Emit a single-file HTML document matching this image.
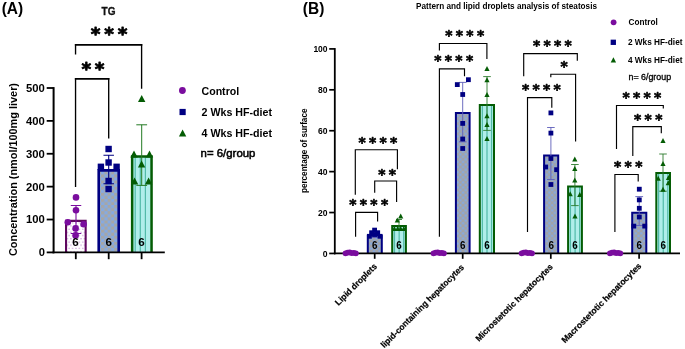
<!DOCTYPE html>
<html><head><meta charset="utf-8"><title>Figure</title>
<style>
html,body{margin:0;padding:0;background:#fff}
svg{display:block}
text{font-family:"Liberation Sans",sans-serif}
text.st{font-family:"DejaVu Sans",sans-serif;font-weight:bold}
</style></head><body>
<svg width="685" height="349" viewBox="0 0 685 349">
<defs>
<pattern id="pd" width="3.4" height="6.4" patternUnits="userSpaceOnUse" patternTransform="translate(66.6 0.4)"><rect width="3.4" height="6.4" fill="#fff"/><rect x="0.35" y="1.1" width="1" height="1" fill="#ae68c4"/><rect x="2.05" y="4.3" width="1" height="1" fill="#ae68c4"/></pattern>
<pattern id="pb" width="6.58" height="6.14" patternUnits="userSpaceOnUse" patternTransform="translate(101 192.8)"><rect width="6.58" height="6.14" fill="#86aae0"/><rect width="3.29" height="3.07" fill="#a6a6a6"/><rect x="3.29" y="3.07" width="3.29" height="3.07" fill="#a6a6a6"/></pattern>
<pattern id="pb2" width="5.4" height="5.1" patternUnits="userSpaceOnUse"><rect width="5.4" height="5.1" fill="#a1a3a9"/><rect x="0.3" y="0.3" width="2.1" height="2" fill="#82aae6"/><rect x="3" y="2.85" width="2.1" height="2" fill="#82aae6"/></pattern>
</defs>
<rect width="685" height="349" fill="#fff"/>

<text x="1.70" y="14.20" font-size="16.8" font-weight="bold" text-anchor="start" fill="#000" textLength="21.5" lengthAdjust="spacingAndGlyphs">(A)</text>
<text x="108.5" y="14.5" font-size="10" font-weight="bold" text-anchor="middle" fill="#111" stroke="#111" stroke-width="0.3">TG</text>
<rect x="66.05" y="220.85" width="19.60" height="31.55" fill="url(#pd)"/>
<path d="M66.05 252.40V220.85H85.65V252.40" fill="none" stroke="#600860" stroke-width="2.1"/>
<rect x="98.70" y="170.40" width="20.00" height="82.00" fill="url(#pb)"/>
<path d="M98.70 252.40V170.40H118.70V252.40" fill="none" stroke="#000082" stroke-width="2.6"/>
<rect x="132.15" y="156.45" width="19.40" height="95.95" fill="#b0eeea"/>
<path d="M135.20 156.45V252.40M140.30 156.45V252.40M145.40 156.45V252.40" stroke="#52baa8" stroke-width="1.2" fill="none"/>
<path d="M132.15 252.40V156.45H151.55V252.40" fill="none" stroke="#045c04" stroke-width="2.5"/>
<path d="M70.75 205.50H81.25M70.75 233.50H81.25M76.00 205.50V233.50" fill="none" stroke="#7a0d9e" stroke-width="1.1"/>
<path d="M103.45 155.30H113.95M103.45 183.80H113.95M108.70 155.30V183.80" fill="none" stroke="#000082" stroke-width="1.1"/>
<path d="M136.30 124.80H147.10M136.30 185.40H147.10M141.70 124.80V185.40" fill="none" stroke="#237a23" stroke-width="1.0"/>
<circle cx="76.00" cy="197.40" r="3.3" fill="#7a0d9e"/>
<circle cx="76.00" cy="210.20" r="3.3" fill="#7a0d9e"/>
<circle cx="67.80" cy="222.20" r="3.3" fill="#7a0d9e"/>
<circle cx="83.60" cy="224.20" r="3.3" fill="#7a0d9e"/>
<circle cx="75.60" cy="228.40" r="3.3" fill="#7a0d9e"/>
<circle cx="75.60" cy="235.40" r="3.3" fill="#7a0d9e"/>
<rect x="105.40" y="145.80" width="6.4" height="6.4" fill="#000082"/>
<rect x="105.40" y="159.30" width="6.4" height="6.4" fill="#000082"/>
<rect x="97.70" y="163.60" width="6.4" height="6.4" fill="#000082"/>
<rect x="113.40" y="163.60" width="6.4" height="6.4" fill="#000082"/>
<rect x="105.40" y="177.80" width="6.4" height="6.4" fill="#000082"/>
<rect x="105.40" y="185.80" width="6.4" height="6.4" fill="#000082"/>
<path d="M141.70 95.10L145.40 102.10H138.00Z" fill="#045c04"/>
<path d="M134.00 150.50L137.70 157.50H130.30Z" fill="#045c04"/>
<path d="M149.50 150.50L153.20 157.50H145.80Z" fill="#045c04"/>
<path d="M141.60 160.50L145.30 167.50H137.90Z" fill="#045c04"/>
<path d="M134.60 177.50L138.30 184.50H130.90Z" fill="#045c04"/>
<path d="M148.60 177.50L152.30 184.50H144.90Z" fill="#045c04"/>
<text x="75.60" y="245.80" font-size="11.6" font-weight="bold" text-anchor="middle" fill="#000">6</text>
<text x="108.70" y="245.80" font-size="11.6" font-weight="bold" text-anchor="middle" fill="#000">6</text>
<text x="141.60" y="245.80" font-size="11.6" font-weight="bold" text-anchor="middle" fill="#000">6</text>
<line x1="53.60" y1="87.10" x2="53.60" y2="253.30" stroke="#000" stroke-width="2.0" stroke-linecap="butt"/>
<line x1="52.60" y1="252.40" x2="164.80" y2="252.40" stroke="#000" stroke-width="1.8" stroke-linecap="butt"/>
<line x1="46.70" y1="88.00" x2="53.60" y2="88.00" stroke="#000" stroke-width="1.8" stroke-linecap="butt"/>
<text x="44.90" y="91.90" font-size="11.0" font-weight="bold" text-anchor="end" fill="#000" textLength="18.8" lengthAdjust="spacingAndGlyphs">500</text>
<line x1="46.70" y1="120.88" x2="53.60" y2="120.88" stroke="#000" stroke-width="1.8" stroke-linecap="butt"/>
<text x="44.90" y="124.78" font-size="11.0" font-weight="bold" text-anchor="end" fill="#000" textLength="18.8" lengthAdjust="spacingAndGlyphs">400</text>
<line x1="46.70" y1="153.76" x2="53.60" y2="153.76" stroke="#000" stroke-width="1.8" stroke-linecap="butt"/>
<text x="44.90" y="157.66" font-size="11.0" font-weight="bold" text-anchor="end" fill="#000" textLength="18.8" lengthAdjust="spacingAndGlyphs">300</text>
<line x1="46.70" y1="186.64" x2="53.60" y2="186.64" stroke="#000" stroke-width="1.8" stroke-linecap="butt"/>
<text x="44.90" y="190.54" font-size="11.0" font-weight="bold" text-anchor="end" fill="#000" textLength="18.8" lengthAdjust="spacingAndGlyphs">200</text>
<line x1="46.70" y1="219.52" x2="53.60" y2="219.52" stroke="#000" stroke-width="1.8" stroke-linecap="butt"/>
<text x="44.90" y="223.42" font-size="11.0" font-weight="bold" text-anchor="end" fill="#000" textLength="18.8" lengthAdjust="spacingAndGlyphs">100</text>
<line x1="46.70" y1="252.40" x2="53.60" y2="252.40" stroke="#000" stroke-width="1.8" stroke-linecap="butt"/>
<text x="44.90" y="256.30" font-size="11.0" font-weight="bold" text-anchor="end" fill="#000" textLength="6.2" lengthAdjust="spacingAndGlyphs">0</text>
<line x1="75.80" y1="252.40" x2="75.80" y2="259.20" stroke="#000" stroke-width="1.8" stroke-linecap="butt"/>
<line x1="108.70" y1="252.40" x2="108.70" y2="259.20" stroke="#000" stroke-width="1.8" stroke-linecap="butt"/>
<line x1="141.60" y1="252.40" x2="141.60" y2="259.20" stroke="#000" stroke-width="1.8" stroke-linecap="butt"/>
<text x="17.00" y="169.50" font-size="10.7" font-weight="bold" text-anchor="middle" fill="#000" textLength="173.0" lengthAdjust="spacingAndGlyphs" transform="rotate(-90 17.00 169.50)">Concentration (nmol/100mg liver)</text>
<path d="M75.55 54.40V44.10M141.60 88.70V44.10" fill="none" stroke="#000" stroke-width="1.35"/>
<path d="M74.88 44.95H142.28" fill="none" stroke="#000" stroke-width="1.7"/>
<path d="M75.55 187.00V78.10M108.70 138.40V78.10" fill="none" stroke="#000" stroke-width="1.35"/>
<path d="M74.88 78.95H109.38" fill="none" stroke="#000" stroke-width="1.7"/>
<text x="90.78" y="40.16" class="st" font-size="18.5" style="letter-spacing:3.82px" stroke="#000" stroke-width="0.83" stroke-linejoin="round">***</text>
<text x="81.48" y="74.77" class="st" font-size="18.5" style="letter-spacing:3.62px" stroke="#000" stroke-width="0.83" stroke-linejoin="round">**</text>
<circle cx="182.40" cy="90.50" r="3.4" fill="#7a0d9e"/>
<text x="201.50" y="94.50" font-size="10.7" font-weight="bold" text-anchor="start" fill="#000" textLength="37.7" lengthAdjust="spacingAndGlyphs">Control</text>
<rect x="179.50" y="108.90" width="6.2" height="6.2" fill="#000082"/>
<text x="201.50" y="116.30" font-size="10.7" font-weight="bold" text-anchor="start" fill="#000" textLength="70.5" lengthAdjust="spacingAndGlyphs">2 Wks HF-diet</text>
<path d="M182.60 129.50L186.30 136.50H178.90Z" fill="#045c04"/>
<text x="201.50" y="137.30" font-size="10.7" font-weight="bold" text-anchor="start" fill="#000" textLength="70.5" lengthAdjust="spacingAndGlyphs">4 Wks HF-diet</text>
<text x="200.6" y="157.0" font-size="10.9" font-weight="normal" stroke="#000" stroke-width="0.5" textLength="54.8" lengthAdjust="spacingAndGlyphs">n= 6/group</text>
<text x="302.80" y="14.20" font-size="16.8" font-weight="bold" text-anchor="start" fill="#000" textLength="21.5" lengthAdjust="spacingAndGlyphs">(B)</text>
<text x="416.00" y="8.70" font-size="8.5" font-weight="bold" text-anchor="start" fill="#000" textLength="181.0" lengthAdjust="spacingAndGlyphs">Pattern and lipid droplets analysis of steatosis</text>
<rect x="367.80" y="235.50" width="14.00" height="17.95" fill="url(#pb2)"/>
<path d="M367.80 253.45V235.50H381.80V253.45" fill="none" stroke="#000082" stroke-width="2.0"/>
<rect x="455.90" y="113.10" width="13.70" height="140.35" fill="url(#pb2)"/>
<path d="M455.90 253.45V113.10H469.60V253.45" fill="none" stroke="#000082" stroke-width="2.0"/>
<rect x="544.10" y="155.40" width="14.10" height="98.05" fill="url(#pb2)"/>
<path d="M544.10 253.45V155.40H558.20V253.45" fill="none" stroke="#000082" stroke-width="2.0"/>
<rect x="632.20" y="212.70" width="14.10" height="40.75" fill="url(#pb2)"/>
<path d="M632.20 253.45V212.70H646.30V253.45" fill="none" stroke="#000082" stroke-width="2.0"/>
<rect x="392.20" y="226.00" width="13.70" height="27.45" fill="#b0eeea"/>
<path d="M394.50 226.00V253.45M399.15 226.00V253.45M403.70 226.00V253.45" stroke="#52baa8" stroke-width="1.2" fill="none"/>
<path d="M392.20 253.45V226.00H405.90V253.45" fill="none" stroke="#045c04" stroke-width="2.0"/>
<rect x="479.80" y="105.00" width="14.20" height="148.45" fill="#b0eeea"/>
<path d="M482.35 105.00V253.45M487.00 105.00V253.45M491.55 105.00V253.45" stroke="#52baa8" stroke-width="1.2" fill="none"/>
<path d="M479.80 253.45V105.00H494.00V253.45" fill="none" stroke="#045c04" stroke-width="2.0"/>
<rect x="568.10" y="186.50" width="13.80" height="66.95" fill="#b0eeea"/>
<path d="M570.45 186.50V253.45M575.10 186.50V253.45M579.65 186.50V253.45" stroke="#52baa8" stroke-width="1.2" fill="none"/>
<path d="M568.10 253.45V186.50H581.90V253.45" fill="none" stroke="#045c04" stroke-width="2.0"/>
<rect x="656.30" y="173.10" width="13.70" height="80.35" fill="#b0eeea"/>
<path d="M658.60 173.10V253.45M663.25 173.10V253.45M667.80 173.10V253.45" stroke="#52baa8" stroke-width="1.2" fill="none"/>
<path d="M656.30 253.45V173.10H670.00V253.45" fill="none" stroke="#045c04" stroke-width="2.0"/>
<path d="M458.90 82.40H466.50M458.90 141.80H466.50M462.70 82.40V141.80" fill="none" stroke="#5e5eba" stroke-width="0.9"/>
<path d="M483.20 76.60H490.80M483.20 130.40H490.80M487.00 76.60V130.40" fill="none" stroke="#2c7c2c" stroke-width="0.9"/>
<path d="M547.10 127.50H554.70M547.10 179.50H554.70M550.90 127.50V179.50" fill="none" stroke="#5e5eba" stroke-width="0.9"/>
<path d="M571.10 164.50H578.70M571.10 205.60H578.70M574.90 164.50V205.60" fill="none" stroke="#2c7c2c" stroke-width="0.9"/>
<path d="M635.30 196.60H643.10M635.30 225.50H643.10M639.20 196.60V225.50" fill="none" stroke="#5e5eba" stroke-width="0.9"/>
<path d="M659.20 154.00H666.80M659.20 191.20H666.80M663.00 154.00V191.20" fill="none" stroke="#2c7c2c" stroke-width="0.9"/>
<path d="M371.70 231.50H377.70M371.70 237.50H377.70M374.70 231.50V237.50" fill="none" stroke="#5e5eba" stroke-width="0.9"/>
<path d="M396.00 219.50H402.00M396.00 230.50H402.00M399.00 219.50V230.50" fill="none" stroke="#2c7c2c" stroke-width="0.9"/>
<rect x="372.20" y="227.70" width="4.8" height="4.8" fill="#000082"/>
<rect x="369.20" y="230.30" width="4.8" height="4.8" fill="#000082"/>
<rect x="375.30" y="230.30" width="4.8" height="4.8" fill="#000082"/>
<rect x="367.00" y="233.90" width="4.8" height="4.8" fill="#000082"/>
<rect x="377.60" y="233.90" width="4.8" height="4.8" fill="#000082"/>
<rect x="372.20" y="232.10" width="4.8" height="4.8" fill="#000082"/>
<rect x="454.90" y="82.20" width="4.8" height="4.8" fill="#000082"/>
<rect x="466.00" y="77.30" width="4.8" height="4.8" fill="#000082"/>
<rect x="460.30" y="92.10" width="4.8" height="4.8" fill="#000082"/>
<rect x="460.30" y="121.00" width="4.8" height="4.8" fill="#000082"/>
<rect x="460.30" y="136.60" width="4.8" height="4.8" fill="#000082"/>
<rect x="460.30" y="146.10" width="4.8" height="4.8" fill="#000082"/>
<rect x="548.50" y="110.50" width="4.8" height="4.8" fill="#000082"/>
<rect x="548.50" y="130.70" width="4.8" height="4.8" fill="#000082"/>
<rect x="548.50" y="156.10" width="4.8" height="4.8" fill="#000082"/>
<rect x="543.30" y="164.60" width="4.8" height="4.8" fill="#000082"/>
<rect x="554.20" y="167.30" width="4.8" height="4.8" fill="#000082"/>
<rect x="548.50" y="182.10" width="4.8" height="4.8" fill="#000082"/>
<rect x="636.90" y="186.80" width="4.8" height="4.8" fill="#000082"/>
<rect x="636.90" y="197.50" width="4.8" height="4.8" fill="#000082"/>
<rect x="636.90" y="205.90" width="4.8" height="4.8" fill="#000082"/>
<rect x="636.90" y="214.60" width="4.8" height="4.8" fill="#000082"/>
<rect x="631.40" y="223.70" width="4.8" height="4.8" fill="#000082"/>
<rect x="642.30" y="223.70" width="4.8" height="4.8" fill="#000082"/>
<path d="M397.30 217.50L399.90 222.50H394.70Z" fill="#045c04"/>
<path d="M400.70 213.50L403.30 218.50H398.10Z" fill="#045c04"/>
<path d="M394.40 225.90L397.00 230.90H391.80Z" fill="#045c04"/>
<path d="M397.60 225.90L400.20 230.90H395.00Z" fill="#045c04"/>
<path d="M400.70 225.90L403.30 230.90H398.10Z" fill="#045c04"/>
<path d="M403.80 225.90L406.40 230.90H401.20Z" fill="#045c04"/>
<path d="M487.00 66.00L489.60 71.00H484.40Z" fill="#045c04"/>
<path d="M487.00 77.30L489.60 82.30H484.40Z" fill="#045c04"/>
<path d="M487.00 92.00L489.60 97.00H484.40Z" fill="#045c04"/>
<path d="M487.00 113.30L489.60 118.30H484.40Z" fill="#045c04"/>
<path d="M487.00 122.10L489.60 127.10H484.40Z" fill="#045c04"/>
<path d="M487.00 135.90L489.60 140.90H484.40Z" fill="#045c04"/>
<path d="M574.80 156.50L577.40 161.50H572.20Z" fill="#045c04"/>
<path d="M574.80 166.00L577.40 171.00H572.20Z" fill="#045c04"/>
<path d="M574.80 177.50L577.40 182.50H572.20Z" fill="#045c04"/>
<path d="M570.20 191.30L572.80 196.30H567.60Z" fill="#045c04"/>
<path d="M579.80 192.10L582.40 197.10H577.20Z" fill="#045c04"/>
<path d="M575.00 213.50L577.60 218.50H572.40Z" fill="#045c04"/>
<path d="M663.00 138.10L665.60 143.10H660.40Z" fill="#045c04"/>
<path d="M663.00 160.90L665.60 165.90H660.40Z" fill="#045c04"/>
<path d="M658.20 175.70L660.80 180.70H655.60Z" fill="#045c04"/>
<path d="M668.50 175.10L671.10 180.10H665.90Z" fill="#045c04"/>
<path d="M668.30 180.30L670.90 185.30H665.70Z" fill="#045c04"/>
<path d="M663.00 186.70L665.60 191.70H660.40Z" fill="#045c04"/>
<text x="372.10" y="248.50" font-size="10.3" font-weight="bold" text-anchor="start" fill="#000" textLength="5.5" lengthAdjust="spacingAndGlyphs">6</text>
<text x="460.05" y="248.50" font-size="10.3" font-weight="bold" text-anchor="start" fill="#000" textLength="5.5" lengthAdjust="spacingAndGlyphs">6</text>
<text x="548.45" y="248.50" font-size="10.3" font-weight="bold" text-anchor="start" fill="#000" textLength="5.5" lengthAdjust="spacingAndGlyphs">6</text>
<text x="636.55" y="248.50" font-size="10.3" font-weight="bold" text-anchor="start" fill="#000" textLength="5.5" lengthAdjust="spacingAndGlyphs">6</text>
<text x="396.35" y="248.50" font-size="10.3" font-weight="bold" text-anchor="start" fill="#000" textLength="5.5" lengthAdjust="spacingAndGlyphs">6</text>
<text x="484.20" y="248.50" font-size="10.3" font-weight="bold" text-anchor="start" fill="#000" textLength="5.5" lengthAdjust="spacingAndGlyphs">6</text>
<text x="572.30" y="248.50" font-size="10.3" font-weight="bold" text-anchor="start" fill="#000" textLength="5.5" lengthAdjust="spacingAndGlyphs">6</text>
<text x="660.45" y="248.50" font-size="10.3" font-weight="bold" text-anchor="start" fill="#000" textLength="5.5" lengthAdjust="spacingAndGlyphs">6</text>
<line x1="334.80" y1="48.05" x2="334.80" y2="254.30" stroke="#000" stroke-width="1.8" stroke-linecap="butt"/>
<line x1="333.90" y1="253.45" x2="680.00" y2="253.45" stroke="#000" stroke-width="1.7" stroke-linecap="butt"/>
<line x1="329.20" y1="48.90" x2="334.80" y2="48.90" stroke="#000" stroke-width="1.7" stroke-linecap="butt"/>
<text x="327.60" y="52.10" font-size="9.0" font-weight="bold" text-anchor="end" fill="#000" textLength="14.2" lengthAdjust="spacingAndGlyphs">100</text>
<line x1="329.20" y1="89.81" x2="334.80" y2="89.81" stroke="#000" stroke-width="1.7" stroke-linecap="butt"/>
<text x="327.60" y="93.01" font-size="9.0" font-weight="bold" text-anchor="end" fill="#000" textLength="9.5" lengthAdjust="spacingAndGlyphs">80</text>
<line x1="329.20" y1="130.72" x2="334.80" y2="130.72" stroke="#000" stroke-width="1.7" stroke-linecap="butt"/>
<text x="327.60" y="133.92" font-size="9.0" font-weight="bold" text-anchor="end" fill="#000" textLength="9.5" lengthAdjust="spacingAndGlyphs">60</text>
<line x1="329.20" y1="171.63" x2="334.80" y2="171.63" stroke="#000" stroke-width="1.7" stroke-linecap="butt"/>
<text x="327.60" y="174.83" font-size="9.0" font-weight="bold" text-anchor="end" fill="#000" textLength="9.5" lengthAdjust="spacingAndGlyphs">40</text>
<line x1="329.20" y1="212.54" x2="334.80" y2="212.54" stroke="#000" stroke-width="1.7" stroke-linecap="butt"/>
<text x="327.60" y="215.74" font-size="9.0" font-weight="bold" text-anchor="end" fill="#000" textLength="9.5" lengthAdjust="spacingAndGlyphs">20</text>
<line x1="329.20" y1="253.45" x2="334.80" y2="253.45" stroke="#000" stroke-width="1.7" stroke-linecap="butt"/>
<text x="327.60" y="256.65" font-size="9.0" font-weight="bold" text-anchor="end" fill="#000" textLength="4.8" lengthAdjust="spacingAndGlyphs">0</text>
<line x1="374.70" y1="253.45" x2="374.70" y2="258.80" stroke="#000" stroke-width="1.7" stroke-linecap="butt"/>
<line x1="462.70" y1="253.45" x2="462.70" y2="258.80" stroke="#000" stroke-width="1.7" stroke-linecap="butt"/>
<line x1="550.80" y1="253.45" x2="550.80" y2="258.80" stroke="#000" stroke-width="1.7" stroke-linecap="butt"/>
<line x1="639.10" y1="253.45" x2="639.10" y2="258.80" stroke="#000" stroke-width="1.7" stroke-linecap="butt"/>
<circle cx="345.50" cy="253.35" r="2.9" fill="#7a0d9e"/>
<circle cx="347.60" cy="252.65" r="2.9" fill="#7a0d9e"/>
<circle cx="349.70" cy="252.45" r="2.9" fill="#7a0d9e"/>
<circle cx="351.70" cy="253.15" r="2.9" fill="#7a0d9e"/>
<circle cx="353.80" cy="252.85" r="2.9" fill="#7a0d9e"/>
<circle cx="355.90" cy="253.35" r="2.9" fill="#7a0d9e"/>
<circle cx="433.50" cy="253.35" r="2.9" fill="#7a0d9e"/>
<circle cx="435.60" cy="252.65" r="2.9" fill="#7a0d9e"/>
<circle cx="437.70" cy="252.45" r="2.9" fill="#7a0d9e"/>
<circle cx="439.70" cy="253.15" r="2.9" fill="#7a0d9e"/>
<circle cx="441.80" cy="252.85" r="2.9" fill="#7a0d9e"/>
<circle cx="443.90" cy="253.35" r="2.9" fill="#7a0d9e"/>
<circle cx="521.60" cy="253.35" r="2.9" fill="#7a0d9e"/>
<circle cx="523.70" cy="252.65" r="2.9" fill="#7a0d9e"/>
<circle cx="525.80" cy="252.45" r="2.9" fill="#7a0d9e"/>
<circle cx="527.80" cy="253.15" r="2.9" fill="#7a0d9e"/>
<circle cx="529.90" cy="252.85" r="2.9" fill="#7a0d9e"/>
<circle cx="532.00" cy="253.35" r="2.9" fill="#7a0d9e"/>
<circle cx="609.90" cy="253.35" r="2.9" fill="#7a0d9e"/>
<circle cx="612.00" cy="252.65" r="2.9" fill="#7a0d9e"/>
<circle cx="614.10" cy="252.45" r="2.9" fill="#7a0d9e"/>
<circle cx="616.10" cy="253.15" r="2.9" fill="#7a0d9e"/>
<circle cx="618.20" cy="252.85" r="2.9" fill="#7a0d9e"/>
<circle cx="620.30" cy="253.35" r="2.9" fill="#7a0d9e"/>
<text x="306.60" y="150.80" font-size="8.3" font-weight="bold" text-anchor="middle" fill="#000" textLength="84.5" lengthAdjust="spacingAndGlyphs" transform="rotate(-90 306.60 150.80)">percentage of surface</text>
<text x="377.50" y="267.00" font-size="8.6" font-weight="bold" text-anchor="end" stroke="#000" stroke-width="0.2" textLength="55" lengthAdjust="spacingAndGlyphs" transform="rotate(-45 377.50 267.00)">Lipid droplets</text>
<text x="464.60" y="268.00" font-size="8.6" font-weight="bold" text-anchor="end" stroke="#000" stroke-width="0.2" textLength="113.6" lengthAdjust="spacingAndGlyphs" transform="rotate(-45 464.60 268.00)">lipid-containing hepatocytes</text>
<text x="553.50" y="267.40" font-size="8.6" font-weight="bold" text-anchor="end" stroke="#000" stroke-width="0.2" textLength="105.5" lengthAdjust="spacingAndGlyphs" transform="rotate(-45 553.50 267.40)">Microstetotic hepatocytes</text>
<text x="642.00" y="266.50" font-size="8.6" font-weight="bold" text-anchor="end" stroke="#000" stroke-width="0.2" textLength="109" lengthAdjust="spacingAndGlyphs" transform="rotate(-45 642.00 266.50)">Macrostetotic hepatocytes</text>
<path d="M355.30 194.70V149.70H397.40V169.20" fill="none" stroke="#000" stroke-width="1.15" stroke-linejoin="miter"/>
<path d="M374.70 192.70V181.00H396.60V201.90" fill="none" stroke="#000" stroke-width="1.15" stroke-linejoin="miter"/>
<path d="M355.60 236.70V212.40H377.60V221.60" fill="none" stroke="#000" stroke-width="1.15" stroke-linejoin="miter"/>
<text x="358.48" y="146.96" class="st" font-size="13.8" style="letter-spacing:3.33px" stroke="#000" stroke-width="0.62" stroke-linejoin="round">****</text>
<text x="378.28" y="178.86" class="st" font-size="13.8" style="letter-spacing:3.33px" stroke="#000" stroke-width="0.62" stroke-linejoin="round">**</text>
<text x="349.28" y="209.46" class="st" font-size="13.8" style="letter-spacing:3.33px" stroke="#000" stroke-width="0.62" stroke-linejoin="round">****</text>
<path d="M439.40 50.50V43.50H486.90V59.00" fill="none" stroke="#000" stroke-width="1.15" stroke-linejoin="miter"/>
<path d="M439.40 236.70V68.80H464.50V76.20" fill="none" stroke="#000" stroke-width="1.15" stroke-linejoin="miter"/>
<text x="445.28" y="40.16" class="st" font-size="13.8" style="letter-spacing:3.33px" stroke="#000" stroke-width="0.62" stroke-linejoin="round">****</text>
<text x="434.28" y="65.46" class="st" font-size="13.8" style="letter-spacing:3.33px" stroke="#000" stroke-width="0.62" stroke-linejoin="round">****</text>
<path d="M523.70 76.20V53.60H577.30V60.70" fill="none" stroke="#000" stroke-width="1.15" stroke-linejoin="miter"/>
<path d="M550.80 77.20V74.20H575.60V141.60" fill="none" stroke="#000" stroke-width="1.15" stroke-linejoin="miter"/>
<path d="M527.50 232.00V97.60H551.80V107.70" fill="none" stroke="#000" stroke-width="1.15" stroke-linejoin="miter"/>
<text x="532.88" y="49.96" class="st" font-size="13.8" style="letter-spacing:3.33px" stroke="#000" stroke-width="0.62" stroke-linejoin="round">****</text>
<text x="560.38" y="71.16" class="st" font-size="13.8" style="letter-spacing:3.33px" stroke="#000" stroke-width="0.62" stroke-linejoin="round">*</text>
<text x="521.88" y="94.46" class="st" font-size="13.8" style="letter-spacing:3.33px" stroke="#000" stroke-width="0.62" stroke-linejoin="round">****</text>
<path d="M616.50 149.10V105.50H663.30V108.50" fill="none" stroke="#000" stroke-width="1.15" stroke-linejoin="miter"/>
<path d="M632.80 156.00V126.60H661.30V133.20" fill="none" stroke="#000" stroke-width="1.15" stroke-linejoin="miter"/>
<path d="M614.90 232.10V174.50H638.20V181.50" fill="none" stroke="#000" stroke-width="1.15" stroke-linejoin="miter"/>
<text x="622.48" y="102.46" class="st" font-size="13.8" style="letter-spacing:3.33px" stroke="#000" stroke-width="0.62" stroke-linejoin="round">****</text>
<text x="634.08" y="123.66" class="st" font-size="13.8" style="letter-spacing:3.33px" stroke="#000" stroke-width="0.62" stroke-linejoin="round">***</text>
<text x="614.08" y="171.16" class="st" font-size="13.8" style="letter-spacing:3.33px" stroke="#000" stroke-width="0.62" stroke-linejoin="round">***</text>
<circle cx="613.60" cy="22.30" r="2.9" fill="#7a0d9e"/>
<text x="628.50" y="25.00" font-size="8.3" font-weight="bold" text-anchor="start" fill="#000" textLength="29.2" lengthAdjust="spacingAndGlyphs">Control</text>
<rect x="610.65" y="39.65" width="5.3" height="5.3" fill="#000082"/>
<text x="627.90" y="45.00" font-size="8.3" font-weight="bold" text-anchor="start" fill="#000" textLength="54.6" lengthAdjust="spacingAndGlyphs">2 Wks HF-diet</text>
<path d="M613.40 57.30L616.10 62.50H610.70Z" fill="#045c04"/>
<text x="627.90" y="62.70" font-size="8.3" font-weight="bold" text-anchor="start" fill="#000" textLength="54.6" lengthAdjust="spacingAndGlyphs">4 Wks HF-diet</text>
<text x="628.5" y="79.5" font-size="8.5" font-weight="normal" stroke="#000" stroke-width="0.3" textLength="42.6" lengthAdjust="spacingAndGlyphs">n= 6/group</text>
</svg>
</body></html>
